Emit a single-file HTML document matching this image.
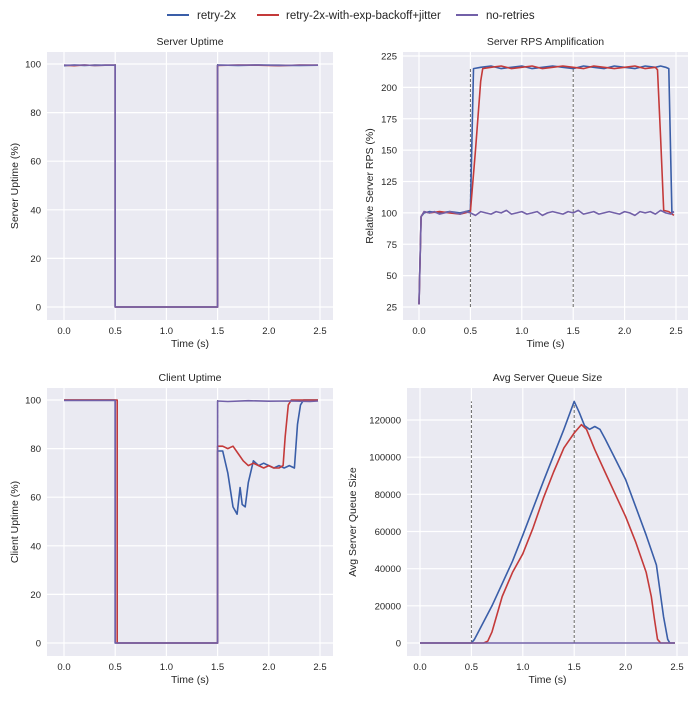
<!DOCTYPE html>
<html><head><meta charset="utf-8"><style>
body{margin:0;background:#fff;}
svg text{font-family:"Liberation Sans",sans-serif;fill:#262626;}
</style></head><body>
<svg id="c" width="700" height="700" xmlns="http://www.w3.org/2000/svg">
<g id="legend">
 <g><line x1="167" y1="15" x2="189" y2="15" stroke="#3a5ea8" stroke-width="2"/><text x="197" y="19" font-size="11.5">retry-2x</text></g>
 <g><line x1="257" y1="15" x2="279" y2="15" stroke="#c43a3a" stroke-width="2"/><text x="286" y="19" font-size="11.5">retry-2x-with-exp-backoff+jitter</text></g>
 <g><line x1="456" y1="15" x2="478" y2="15" stroke="#7260a8" stroke-width="2"/><text x="486" y="19" font-size="11.5">no-retries</text></g>
</g>
</svg>
<script>
// ---- data ----
const xTicks=[0,0.5,1,1.5,2,2.5];
const xTickLabels=["0.0","0.5","1.0","1.5","2.0","2.5"];
const uptimeTicks=[0,20,40,60,80,100];
const rpsTicks=[25,50,75,100,125,150,175,200,225];
const queueTicks=[0,20000,40000,60000,80000,100000,120000];

const suT=[0,0.1,0.2,0.3,0.4,0.5,0.5,1.5,1.5,1.7,1.9,2.1,2.3,2.48];
const suBlue=[99.3,99.6,99.4,99.6,99.5,99.5,0,0,99.6,99.4,99.6,99.5,99.4,99.5];
const suRed=[99.5,99.3,99.6,99.4,99.5,99.5,0,0,99.4,99.6,99.5,99.3,99.6,99.5];
const suPurple=[99.5,99.5,99.6,99.4,99.5,99.5,0,0,99.5,99.5,99.6,99.4,99.5,99.5];

const rpsT=[0,0.02,0.05,0.1,0.15,0.2,0.25,0.3,0.35,0.4,0.45,0.5,0.55,0.6,0.65,0.7,0.75,0.8,0.85,0.9,0.95,1,1.05,1.1,1.15,1.2,1.25,1.3,1.35,1.4,1.45,1.5,1.55,1.6,1.65,1.7,1.75,1.8,1.85,1.9,1.95,2,2.05,2.1,2.15,2.2,2.25,2.3,2.35,2.4,2.45,2.48];
const rpsPurple=[27,97,101,100,101,99,100,101,100,99,101,100,98,101,100,99,101,100,102,99,100,101,99,100,101,98,100,101,100,99,101,100,102,99,100,101,99,100,101,100,99,101,100,98,101,100,101,99,102,100,99,101];
const rpsBT=[0,0.02,0.05,0.1,0.2,0.3,0.4,0.45,0.5,0.53,0.6,0.7,0.8,0.9,1,1.1,1.2,1.3,1.4,1.5,1.6,1.7,1.8,1.9,2,2.1,2.2,2.3,2.35,2.4,2.43,2.46,2.48];
const rpsBlue=[27,97,100,101,100,101,100,101,102,215,216,217,215,216,217,215,216,217,216,215,217,216,215,217,216,215,217,216,217,216,215,100,101];
const rpsRT=[0,0.02,0.05,0.1,0.2,0.3,0.4,0.5,0.55,0.6,0.62,0.7,0.8,0.9,1,1.1,1.2,1.3,1.4,1.5,1.6,1.7,1.8,1.9,2,2.1,2.2,2.3,2.32,2.35,2.38,2.43,2.48];
const rpsRed=[27,97,101,100,101,100,99,101,150,205,215,216,217,215,216,217,215,216,217,216,215,217,216,215,216,217,215,216,214,160,102,101,98];

const cuPT=[0,0.5,0.5,1.5,1.5,1.6,1.8,2,2.2,2.4,2.48];
const cuPurple=[99.8,99.8,0,0,99.6,99.4,99.7,99.5,99.6,99.4,99.6];
const cuBT=[0,0.5,0.5,1.5,1.5,1.55,1.6,1.65,1.69,1.72,1.74,1.77,1.8,1.85,1.9,1.95,2,2.05,2.1,2.15,2.2,2.25,2.28,2.31,2.34,2.38,2.48];
const cuBlue=[100,100,0,0,79,79,70,56,53,64,57,56,66,75,73,74,73,72,73,72,73,72,90,98,100,100,100];
const cuRT=[0,0.52,0.52,1.5,1.5,1.55,1.6,1.65,1.7,1.75,1.8,1.85,1.9,1.95,2,2.05,2.1,2.14,2.16,2.19,2.22,2.48];
const cuRed=[100,100,0,0,81,81,80,81,78,75,73,74,73,72,73,72,72,73,85,98,100,100];

const qBT=[0,0.5,0.53,0.7,0.9,1,1.2,1.4,1.5,1.55,1.6,1.65,1.7,1.75,1.8,1.9,2,2.1,2.2,2.3,2.33,2.37,2.41,2.43,2.48];
const qBlue=[0,0,2000,20000,44000,58000,87000,115000,130000,124000,117000,115000,116500,115000,110000,99000,88000,73000,58000,42000,30000,14000,2000,0,0];
const qRT=[0,0.62,0.66,0.7,0.8,0.9,1,1.1,1.2,1.3,1.4,1.5,1.57,1.62,1.7,1.8,1.9,2,2.1,2.2,2.25,2.28,2.31,2.34,2.48];
const qRed=[0,0,1000,6000,25000,38000,48000,62000,78000,92000,105000,113000,117500,115000,104000,92000,80000,68000,54000,38000,25000,13000,2000,0,0];
const qPT=[0,2.48];
const qPurple=[0,0];

// ---- drawing ----
const NS="http://www.w3.org/2000/svg";
const svg=document.getElementById('c');
function mk(tag,attrs,parent){const e=document.createElementNS(NS,tag);for(const k in attrs)e.setAttribute(k,attrs[k]);(parent||svg).appendChild(e);return e;}
const BLUE="#3a5ea8",RED="#c43a3a",PURPLE="#7260a8";
function panel(o){
 const g=mk('g',{});
 
 
 const bg=mk('rect',{x:o.x0,y:o.y0,width:o.x1-o.x0,height:o.y1-o.y0,fill:'#eaeaf2'},g);
 
 
 const xs=v=>o.px0+(v-0)*(o.px1-o.px0)/2.5;
 const ys=v=>o.py0+(v-o.v0)*(o.py1-o.py0)/(o.v1-o.v0);
 xTicks.forEach((t,i)=>{
  mk('line',{x1:xs(t),x2:xs(t),y1:o.y0,y2:o.y1,stroke:'#fff','stroke-width':1.2},g);
  const tl=mk('text',{x:xs(t),y:o.y1+14,'font-size':9.5,'text-anchor':'middle'},g);tl.textContent=xTickLabels[i];
  
  
 });
 o.ticks.forEach(t=>{
  mk('line',{x1:o.x0,x2:o.x1,y1:ys(t),y2:ys(t),stroke:'#fff','stroke-width':1.2},g);
  const tl=mk('text',{x:o.x0-6,y:ys(t)+3.5,'font-size':9.5,'text-anchor':'end'},g);tl.textContent=String(t);
  
  
 });
 const ti=mk('text',{x:(o.x0+o.x1)/2,y:o.y0-7,'font-size':10.5,'text-anchor':'middle'},g);ti.textContent=o.title;
 
 
 const xl=mk('text',{x:(o.x0+o.x1)/2,y:o.y1+27,'font-size':10.5,'text-anchor':'middle'},g);xl.textContent='Time (s)';
 
 
 const yx=o.ylx, yy=(o.y0+o.y1)/2;
 const yl=mk('text',{x:yx,y:yy,'font-size':10.5,'text-anchor':'middle',transform:`rotate(-90 ${yx} ${yy})`},g);yl.textContent=o.ylabel;
 
 
 if(o.dash){[0.5,1.5].forEach(t=>{
  const d=mk('line',{x1:xs(t),x2:xs(t),y1:ys(o.dash[0]),y2:ys(o.dash[1]),stroke:'#666','stroke-width':1,'stroke-dasharray':'3,2'},g);
  
  
 });}
 o.series.forEach(s=>{
  const p=mk('path',{d:s.t.map((t,i)=>(i?'L':'M')+xs(t).toFixed(1)+','+ys(s.v[i]).toFixed(1)).join(''),fill:'none',stroke:s.c,'stroke-width':1.6,'stroke-linejoin':'round'},g);
  
  
 });
 return {xs,ys};
}
panel({name:'server-uptime-panel',title:'Server Uptime',ylabel:'Server Uptime (%)',x0:47,x1:333,y0:52,y1:320,px0:64,px1:320,v0:0,v1:100,py0:307,py1:64,ticks:uptimeTicks,ylx:18,dash:[0,100],
 series:[{t:suT,v:suBlue,c:BLUE,n:'line-retry-2x'},{t:suT,v:suRed,c:RED,n:'line-retry-2x-backoff'},{t:suT,v:suPurple,c:PURPLE,n:'line-no-retries'}]});
panel({name:'server-rps-panel',title:'Server RPS Amplification',ylabel:'Relative Server RPS (%)',x0:403,x1:688,y0:52,y1:320,px0:419,px1:676,v0:25,v1:225,py0:307,py1:56,ticks:rpsTicks,ylx:373,dash:[25,216],
 series:[{t:rpsBT,v:rpsBlue,c:BLUE,n:'line-retry-2x'},{t:rpsRT,v:rpsRed,c:RED,n:'line-retry-2x-backoff'},{t:rpsT,v:rpsPurple,c:PURPLE,n:'line-no-retries'}]});
panel({name:'client-uptime-panel',title:'Client Uptime',ylabel:'Client Uptime (%)',x0:47,x1:333,y0:388,y1:656,px0:64,px1:320,v0:0,v1:100,py0:643,py1:400,ticks:uptimeTicks,ylx:18,dash:[0,100],
 series:[{t:cuBT,v:cuBlue,c:BLUE,n:'line-retry-2x'},{t:cuRT,v:cuRed,c:RED,n:'line-retry-2x-backoff'},{t:cuPT,v:cuPurple,c:PURPLE,n:'line-no-retries'}]});
panel({name:'queue-size-panel',title:'Avg Server Queue Size',ylabel:'Avg Server Queue Size',x0:407,x1:688,y0:388,y1:656,px0:420,px1:677,v0:0,v1:120000,py0:643,py1:420,ticks:queueTicks,ylx:356,dash:[0,130000],
 series:[{t:qBT,v:qBlue,c:BLUE,n:'line-retry-2x'},{t:qRT,v:qRed,c:RED,n:'line-retry-2x-backoff'},{t:qPT,v:qPurple,c:PURPLE,n:'line-no-retries'}]});
svg.appendChild(document.getElementById('legend'));
</script>
</body></html>
